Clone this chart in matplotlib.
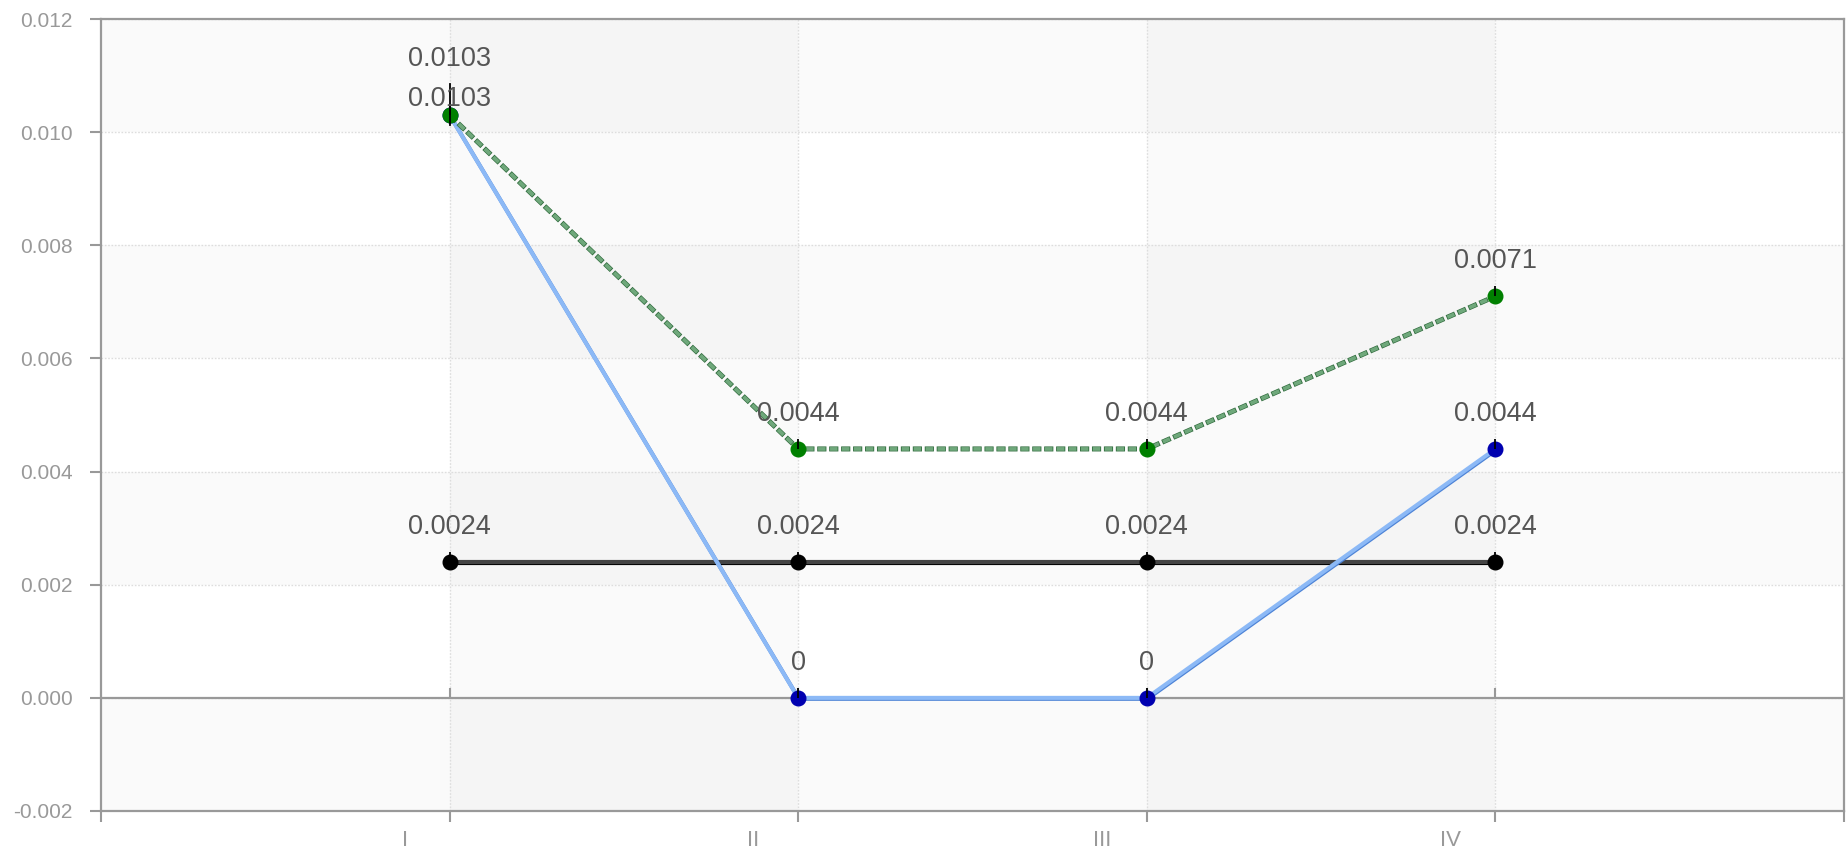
import matplotlib
matplotlib.use("Agg")
import matplotlib.pyplot as plt
import matplotlib.patheffects as pe
from matplotlib.path import Path
from matplotlib.transforms import offset_copy
import numpy as np

plt.rcParams['font.family'] = ['Liberation Sans', 'DejaVu Sans']
plt.rcParams['lines.scale_dashes'] = False

categories = ["I", "II", "III", "IV"]
green_vals = [0.0103, 0.0044, 0.0044, 0.0071]
blue_vals = [0.0103, 0.0, 0.0, 0.0044]
black_vals = [0.0024, 0.0024, 0.0024, 0.0024]
y_ticks = [-0.002, 0.0, 0.002, 0.004, 0.006, 0.008, 0.010, 0.012]

fig = plt.figure(figsize=(18.47, 8.59), dpi=100)
ax = fig.add_axes([101/1847, 1-811/859, (1844-101)/1847, (811-19)/859])

x = np.arange(1, len(categories) + 1)
ax.set_xlim(0, len(categories) + 1)
ax.set_ylim(-0.002, 0.012)

# background bands
for i, (a, b) in enumerate(zip(y_ticks[:-1], y_ticks[1:])):
    if i % 2 == 0:
        ax.axhspan(a, b, color='black', alpha=0.02, lw=0, zorder=0)
for i in range(0, len(categories) + 1):
    if i % 2 == 1:
        ax.axvspan(i, i + 1, color='black', alpha=0.02, lw=0, zorder=0)

# grid
for yv in y_ticks:
    ax.axhline(yv, color='#dddddd', lw=1, ls=(0, (1.2, 1.2)), zorder=1)
for xv in x:
    ax.axvline(xv, color='#dddddd', lw=1, ls=(0, (1.2, 1.2)), zorder=1)

# zero line
ax.axhline(0, color='#999999', lw=1.6, zorder=2)
up_tick = Path([(0, 0), (0, 1)])
ax.plot(x, [0]*len(x), ls='none', marker=up_tick, markersize=14.4,
        markeredgecolor='#999999', markeredgewidth=1.5, zorder=2)

# black series
ax.plot(x, black_vals, color='#444444', lw=3.0, zorder=3, solid_capstyle='butt',
        path_effects=[pe.Stroke(offset=(0, -1.0), linewidth=3.0, foreground='black'), pe.Normal()])
ax.plot(x, black_vals, ls='none', marker='o', markersize=10.5, color='black', zorder=3.2)

# blue series
ax.plot(x, blue_vals, color='#8cb9f6', lw=2.9, zorder=4, solid_capstyle='butt',
        path_effects=[pe.Stroke(offset=(0.5, -0.7), linewidth=2.9, foreground='#4d83d6'), pe.Normal()])
ax.plot(x, blue_vals, ls='none', marker='o', markersize=10.5, color='#0000b0', zorder=4.2)

# green series
ax.plot(x, green_vals, color='#2f6a3c', lw=3.6, ls=(0, (6.6, 2.0)), zorder=5, dash_capstyle='butt')
ax.plot(x, green_vals, color='#6fa87b', lw=2.7, ls=(-0.6, (5.4, 3.2)), zorder=5.1, dash_capstyle='butt')
ax.plot(x, green_vals, ls='none', marker='o', markersize=10.5, color='#008000', zorder=5.2)

# small black ticks above points
for vals in (black_vals, blue_vals, green_vals):
    ax.plot(x, vals, ls='none', marker=up_tick, markersize=14.4,
            markeredgecolor='black', markeredgewidth=1.3, zorder=6)
# longer mark at the overlapping first point
ax.plot([x[0], x[0]], [green_vals[0] - 0.00018, green_vals[0] + 0.00055],
        color='black', lw=1.3, zorder=6)

# data labels
lab_kw = dict(ha='center', va='bottom', fontsize=19.5, color='#555555', zorder=7)
def label(xv, yv, txt, dy):
    ax.annotate(txt, (xv, yv), xytext=(0, dy), textcoords='offset points', **lab_kw)

def fmt(v):
    return "0" if v == 0 else f"{v:.4f}"

for i, (xv, v) in enumerate(zip(x, green_vals)):
    label(xv, v, fmt(v), 31 if i == 0 else 16)
for i, (xv, v) in enumerate(zip(x, blue_vals)):
    label(xv, v, fmt(v), 2 if i == 0 else 16)
for xv, v in zip(x, black_vals):
    label(xv, v, fmt(v), 16)

# axes styling
for s in ax.spines.values():
    s.set_color('#999999')
    s.set_linewidth(1.6)
ax.set_yticks(y_ticks)
ax.set_yticklabels([f"{t:.3f}" for t in y_ticks])
ax.tick_params(axis='y', colors='#999999', labelcolor='#999999', labelsize=15,
               length=8, width=1.5, pad=12.5, direction='out')
ax.set_xticks(np.arange(0, len(categories) + 2))
ax.set_xticklabels([])
ax.tick_params(axis='x', colors='#999999', length=8, width=1.5, direction='out')

# category labels (offset left of their ticks)
trans = offset_copy(ax.get_xaxis_transform(), fig=fig, x=-45, y=-30, units='dots')
for xv, c in zip(x, categories):
    ax.text(xv, 0, c, transform=trans, ha='center', va='center',
            fontsize=16, color='#999999')

fig.savefig("out.png", dpi=100)
